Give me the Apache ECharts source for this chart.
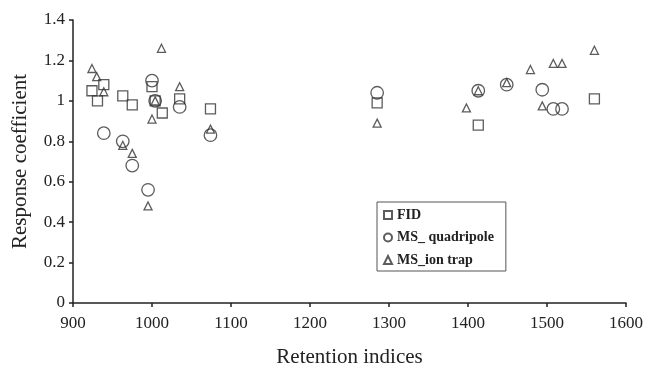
<!DOCTYPE html>
<html>
<head>
<meta charset="utf-8">
<script src="https://cdn.jsdelivr.net/npm/echarts@6/dist/echarts.min.js"></script>
<style>
  html, body { margin: 0; padding: 0; background: #fff; }
  #chart { width: 648px; height: 374px; }
</style>
</head>
<body>
<div id="chart"></div>
<script>
// [retention index, response coefficient]
const fid = [
  [924, 1.05], [931, 1.0], [939, 1.08], [963, 1.025], [975, 0.98],
  [1000, 1.07], [1004, 1.0], [1013, 0.94], [1035, 1.01], [1074, 0.96],
  [1285, 0.99], [1413, 0.88], [1560, 1.01]
];
const quadripole = [
  [939, 0.84], [963, 0.8], [975, 0.68], [995, 0.56], [1000, 1.1],
  [1004, 1.0], [1035, 0.97], [1074, 0.83], [1285, 1.04], [1413, 1.05],
  [1449, 1.08], [1494, 1.055], [1508, 0.96], [1519, 0.96]
];
const ionTrap = [
  [924, 1.16], [930, 1.12], [939, 1.045], [963, 0.78], [975, 0.74],
  [995, 0.48], [1000, 0.91], [1004, 1.0], [1012, 1.26], [1035, 1.07],
  [1074, 0.86], [1285, 0.89], [1398, 0.965], [1413, 1.05], [1449, 1.09],
  [1479, 1.155], [1494, 0.975], [1508, 1.185], [1519, 1.185], [1560, 1.25]
];
const seriesNames = ['FID', 'MS_ quadripole', 'MS_ion trap'];

const serif = 'Liberation Serif, DejaVu Serif, serif';
const ink = '#222';
const markStyle = { color: 'rgba(0,0,0,0)', borderColor: '#333', borderWidth: 1.3 };

const chart = echarts.init(document.getElementById('chart'));

const scatter = (name, data, symbol, size) => ({
  name,
  type: 'scatter',
  data,
  symbol,
  symbolSize: size,
  itemStyle: markStyle,
  emphasis: { disabled: true },
});

chart.setOption({
  animation: false,
  grid: { left: 73, right: 22, top: 20, bottom: 71 },
  legend: {
    orient: 'vertical',
    left: 377,
    top: 202,
    padding: [5, 12, 3, 6],
    itemGap: 6.5,
    itemWidth: 8,
    itemHeight: 8,
    borderColor: '#555',
    borderWidth: 1,
    data: seriesNames,
    textStyle: { fontFamily: serif, fontSize: 14, fontWeight: 'bold', color: ink, lineHeight: 16 },
  },
  xAxis: {
    type: 'value',
    min: 900,
    max: 1600,
    interval: 100,
    name: 'Retention indices',
    nameLocation: 'middle',
    nameGap: 44,
    nameTextStyle: { fontFamily: serif, fontSize: 21, color: ink },
    axisLine: { show: true, onZero: false, lineStyle: { color: ink, width: 1.5 } },
    axisTick: { show: true, length: 4, lineStyle: { color: ink, width: 1.5 } },
    axisLabel: { fontFamily: serif, fontSize: 17, color: ink, margin: 12, formatter: v => String(v) },
    splitLine: { show: false },
  },
  yAxis: {
    type: 'value',
    min: 0,
    max: 1.4,
    interval: 0.2,
    name: 'Response coefficient',
    nameLocation: 'middle',
    nameGap: 42,
    nameTextStyle: { fontFamily: serif, fontSize: 21, color: ink },
    axisLine: { show: true, lineStyle: { color: ink, width: 1.5 } },
    axisTick: { show: true, length: 4, lineStyle: { color: ink, width: 1.5 } },
    axisLabel: { fontFamily: serif, fontSize: 17, color: ink, margin: 8 },
    splitLine: { show: false },
  },
  series: [
    scatter(seriesNames[0], fid, 'rect', 10),
    scatter(seriesNames[1], quadripole, 'circle', 12.5),
    scatter(seriesNames[2], ionTrap, 'triangle', 8),
  ],
});
</script>
</body>
</html>
